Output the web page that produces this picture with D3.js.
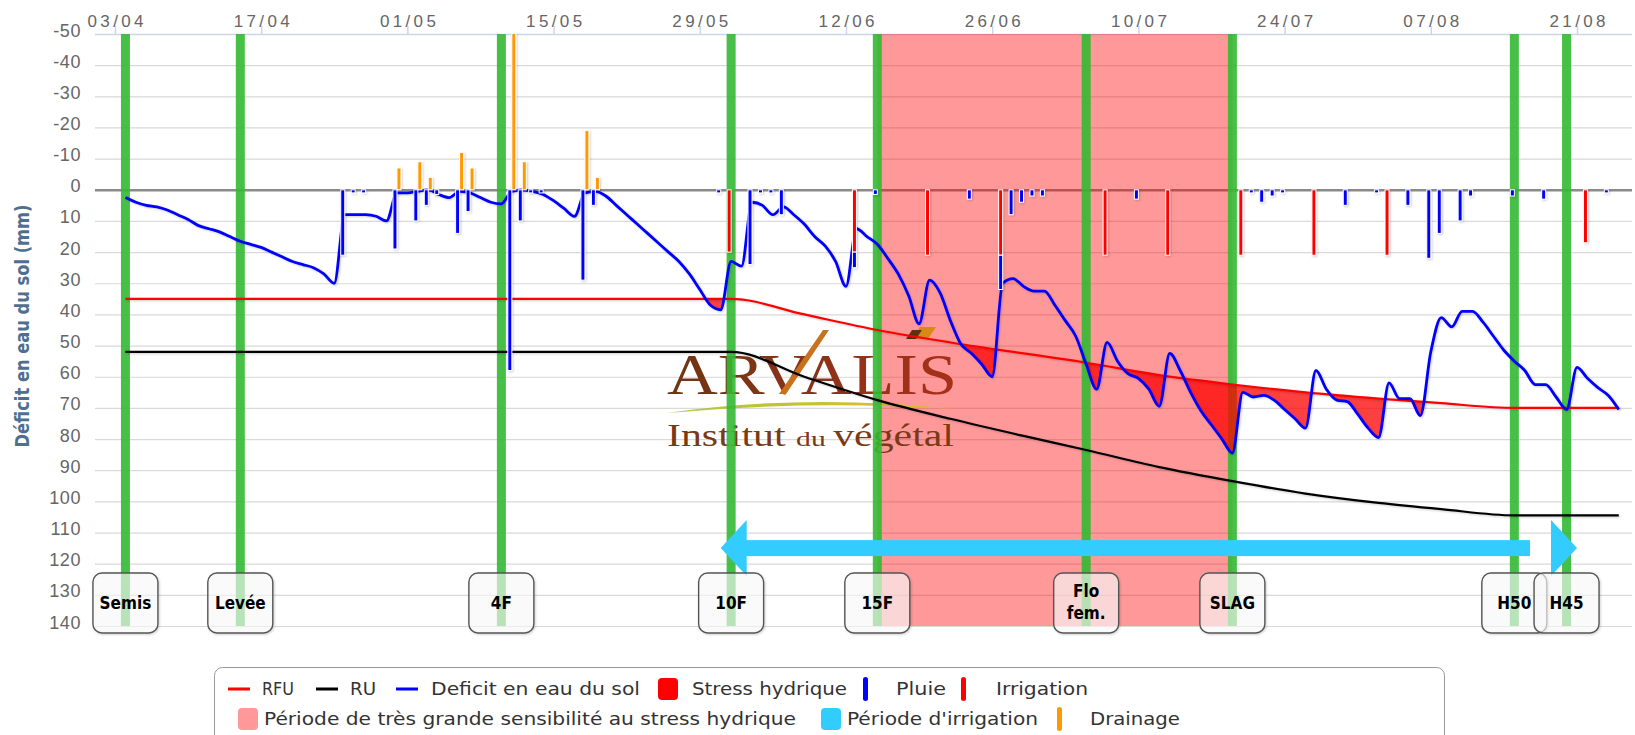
<!DOCTYPE html>
<html>
<head>
<meta charset="utf-8">
<title>Bilan hydrique</title>
<script src="https://cdn.jsdelivr.net/npm/d3@7"></script>
<style>
  body { margin: 0; background: #fff; }
  svg { display: block; font-family: "DejaVu Sans", sans-serif; }
  .narrow { font-family: "Liberation Sans Narrow", "DejaVu Sans Condensed", "Roboto Condensed", "Liberation Sans", sans-serif; }
</style>
</head>
<body>
<script>
// ---- data ----
var tickDates = ["03/04", "17/04", "01/05", "15/05", "29/05", "12/06", "26/06", "10/07", "24/07", "07/08", "21/08"];
var yTicks = [-50, -40, -30, -20, -10, 0, 10, 20, 30, 40, 50, 60, 70, 80, 90, 100, 110, 120, 130, 140];

var stageNames = ["Semis", "Levée", "4F", "10F", "15F", "Flo fem.", "SLAG", "H50", "H45"];
var stageDates = ["04/04", "15/04", "10/05", "01/06", "15/06", "05/07", "19/07", "15/08", "20/08"];

var sensitivePeriod = ["15/06", "19/07"];
var irrigPeriod = ["31/05", "21/08"];
var irrigPeriodLevel = 115;

var reserveDates = ["04/04", "01/06", "08/06", "15/06", "22/06", "29/06", "05/07", "12/07", "19/07", "26/07", "02/08", "08/08", "15/08", "25/08"];
var rfuValues = [35, 35, 40, 45, 49, 52.5, 55.5, 59.5, 62.5, 65, 67, 68.5, 70, 70];
var ruValues = [52, 52, 60, 67.5, 73.5, 79, 83.5, 89, 93.5, 97.5, 100.5, 102.5, 104.5, 104.5];

// daily soil water deficit, first value on 04/04
var deficitStart = "04/04";
var deficit = [
  2.5, 4, 5, 5.5, 6.5, 8, 9.5, 11.5, 12.5, 13.5,
  15, 16.5, 17.5, 18.5, 20, 21.5, 23, 24, 25, 27,
  30, 8, 8, 8, 8.5, 10, 1, 1, 0.5, 0,
  1.5, 2.5, 0.5, 1, 2.5, 4, 4.5, 0.5, 0, 0.5,
  1.5, 3.5, 6, 8.5, 1, 0.5, 2, 5, 8, 11,
  14, 17, 20, 23, 27, 32, 37, 38.5, 23, 24.5,
  4, 5, 8, 5.5, 8, 11, 15, 18, 23, 31,
  12.5, 15, 17.5, 22, 27, 34, 43, 29, 33, 42,
  49.5, 52.5, 56, 60, 30, 28.5, 31, 32.5, 32.5, 37,
  42, 47, 56, 64, 49, 55, 59, 60.5, 64, 69.5,
  52.5, 58, 65, 71, 75.5, 80, 84.5, 65, 66.5, 66,
  67.5, 70.5, 73.5, 76.5, 58, 64, 67.5, 68, 72, 76.5,
  79.5, 62, 67, 67, 72.5, 52, 41, 44, 39, 39,
  42.5, 47, 51.5, 55, 58, 62.5, 62.5, 66.5, 70.5, 57,
  60.5, 63.5, 66, 70.5
];

var pluieDates = ["25/04", "26/04", "27/04", "30/04", "02/05", "03/05", "04/05", "06/05", "07/05", "11/05",
  "12/05", "13/05", "14/05", "18/05", "19/05", "31/05", "03/06", "04/06", "05/06", "06/06",
  "13/06", "15/06", "24/06", "27/06", "28/06", "29/06", "30/06", "01/07", "10/07", "21/07",
  "22/07", "23/07", "24/07", "30/07", "02/08", "05/08", "07/08", "08/08", "10/08", "11/08",
  "15/08", "18/08", "24/08"];
var pluieValues = [21, 1, 1, 19, 10, 5, 1.5, 14, 7, 58,
  10, 1, 1, 29, 5, 1, 24, 1, 1, 8,
  5, 1.5, 3, 11, 8, 4, 2, 2, 3, 1,
  4, 2, 1, 5, 1, 5, 22, 14, 10, 2,
  2, 3, 1];

var irrigDates = ["01/06", "13/06", "20/06", "27/06", "07/07", "13/07", "20/07", "27/07", "03/08", "22/08"];
var irrigValues = [20, 20, 21, 21, 21, 21, 21, 21, 21, 17];

var drainDates = ["30/04", "02/05", "03/05", "06/05", "07/05", "11/05", "12/05", "18/05", "19/05"];
var drainValues = [-7, -9, -4, -12, -7, -60, -9, -19, -4];

// ---- layout ----
var W = 1635, H = 735;
var plot = {left: 95, right: 1632, top: 34, bottom: 626};

var parse = d3.timeParse("%d/%m/%Y");
function day(s) { return parse(s + "/2019"); }

var x = d3.scaleTime()
    .domain([day("03/04"), day("21/08")])
    .range([115, 1577]);
var y = d3.scaleLinear()
    .domain([-50, 140])
    .range([plot.top, plot.bottom]);

var svg = d3.select("body").append("svg")
    .attr("width", W)
    .attr("height", H);

var defs = svg.append("defs");
defs.append("clipPath").attr("id", "plotClip")
  .append("rect")
    .attr("x", plot.left).attr("y", plot.top)
    .attr("width", plot.right - plot.left).attr("height", plot.bottom - plot.top);

var shadow = defs.append("filter").attr("id", "shadow")
    .attr("x", "-20%").attr("y", "-20%").attr("width", "140%").attr("height", "140%");
shadow.append("feDropShadow")
    .attr("dx", 1).attr("dy", 1).attr("stdDeviation", 1)
    .attr("flood-color", "#000").attr("flood-opacity", 0.2);

var logoGrad = defs.append("linearGradient").attr("id", "logoGrad");
logoGrad.append("stop").attr("offset", "0%").attr("stop-color", "#6e3514");
logoGrad.append("stop").attr("offset", "100%").attr("stop-color", "#a8301a");
var swooshGrad = defs.append("linearGradient").attr("id", "swooshGrad");
swooshGrad.append("stop").attr("offset", "0%").attr("stop-color", "#a6cc3a");
swooshGrad.append("stop").attr("offset", "100%").attr("stop-color", "#e6b830");

// series helpers
var reserve = reserveDates.map(function (d, i) {
  return {date: day(d), rfu: rfuValues[i], ru: ruValues[i]};
});
var deficitData = deficit.map(function (v, i) {
  return {date: d3.timeDay.offset(day(deficitStart), i), v: v};
});

// ---- grid ----
svg.append("g").selectAll("line")
    .data(yTicks)
  .join("line")
    .attr("x1", plot.left).attr("x2", plot.right)
    .attr("y1", function (d) { return y(d) + 0.5; })
    .attr("y2", function (d) { return y(d) + 0.5; })
    .attr("stroke", function (d) { return d === 0 ? "#8a8a8a" : "#d9d9d9"; })
    .attr("stroke-width", function (d) { return d === 0 ? 2.5 : 1.2; });

// top axis line and ticks
svg.append("line")
    .attr("x1", plot.left).attr("x2", plot.right)
    .attr("y1", plot.top + 0.5).attr("y2", plot.top + 0.5)
    .attr("stroke", "#ccd6eb").attr("stroke-width", 1.5);

var xAxis = svg.append("g")
    .attr("transform", "translate(0," + plot.top + ")")
    .call(d3.axisTop(x)
      .tickValues(tickDates.map(day))
      .tickFormat(d3.timeFormat("%d/%m"))
      .tickSize(8)
      .tickSizeOuter(0));
xAxis.select(".domain").remove();
xAxis.selectAll(".tick line").attr("stroke", "#ccd6eb").attr("stroke-width", 1.5);
xAxis.selectAll(".tick text")
    .attr("y", -7)
    .attr("fill", "#666")
    .style("font-size", "17px")
    .attr("textLength", 56)
    .attr("lengthAdjust", "spacing");

var yAxis = svg.append("g")
    .attr("transform", "translate(81,0)")
    .call(d3.axisLeft(y).tickValues(yTicks).tickSize(0).tickPadding(0)
      .tickFormat(function (d) { return String(d); }));
yAxis.select(".domain").remove();
yAxis.selectAll(".tick text")
    .attr("dy", 2)
    .attr("fill", "#666")
    .style("font-size", "18px")
    .style("letter-spacing", "0.6px");

svg.append("text")
    .attr("class", "narrow")
    .attr("transform", "translate(29,326) rotate(-90)")
    .attr("text-anchor", "middle")
    .attr("fill", "#4f6f91")
    .attr("font-weight", "bold")
    .style("font-size", "20px")
    .attr("textLength", 243)
    .attr("lengthAdjust", "spacingAndGlyphs")
    .text("Déficit en eau du sol (mm)");

var chart = svg.append("g").attr("clip-path", "url(#plotClip)");

// sensitive period band
chart.append("rect")
    .attr("x", x(day(sensitivePeriod[0])))
    .attr("width", x(day(sensitivePeriod[1])) - x(day(sensitivePeriod[0])))
    .attr("y", plot.top).attr("height", plot.bottom - plot.top)
    .attr("fill", "#ff0000").attr("fill-opacity", 0.4);

// background logo
var logo = chart.append("g");
logo.append("text")
    .attr("x", 667).attr("y", 394)
    .attr("font-family", "Liberation Serif, DejaVu Serif, serif")
    .style("font-size", "56px")
    .attr("fill", "url(#logoGrad)")
    .attr("textLength", 290)
    .attr("lengthAdjust", "spacingAndGlyphs")
    .text("ARVALIS");
logo.append("path")
    .attr("d", "M779,394 L823,330 L829,330 L786,394 Z")
    .attr("fill", "#c8721e");
logo.append("path")
    .attr("d", "M912,339 L920,327 L936,327 L928,339 Z")
    .attr("fill", "#d98a14");
logo.append("path")
    .attr("d", "M906,339 L912,330 L922,330 L916,339 Z")
    .attr("fill", "#5a3216");
logo.append("path")
    .attr("d", "M667,413 Q805,393 955,409 Q805,400 667,413 Z")
    .attr("fill", "url(#swooshGrad)");
var inst = logo.append("text")
    .attr("x", 667).attr("y", 446)
    .attr("font-family", "Liberation Serif, DejaVu Serif, serif")
    .attr("fill", "#7a3a16");
inst.append("tspan").style("font-size", "31px").text("Institut ");
inst.append("tspan").style("font-size", "22px").text("du ");
inst.append("tspan").style("font-size", "31px").text("végétal");
inst.attr("textLength", 287).attr("lengthAdjust", "spacingAndGlyphs");

// stage lines
chart.append("g").selectAll("rect")
    .data(stageDates)
  .join("rect")
    .attr("x", function (d) { return x(day(d)) - 4.5; })
    .attr("width", 9)
    .attr("y", plot.top).attr("height", plot.bottom - plot.top)
    .attr("fill", "#32b932").attr("fill-opacity", 0.9);

// water stress: between RFU and deficit where deficit exceeds RFU
defs.append("clipPath").attr("id", "belowRfu")
  .append("path")
    .attr("d", d3.area()
      .x(function (d) { return x(d.date); })
      .y0(plot.bottom)
      .y1(function (d) { return y(d.rfu); })
      .curve(d3.curveMonotoneX)(reserve));

chart.append("path")
    .attr("clip-path", "url(#belowRfu)")
    .attr("d", d3.area()
      .x(function (d) { return x(d.date); })
      .y0(plot.top)
      .y1(function (d) { return y(d.v); })
      .curve(d3.curveMonotoneX)(deficitData))
    .attr("fill", "#ff0000").attr("fill-opacity", 0.75);

// lines
function lineOf(key) {
  return d3.line()
    .x(function (d) { return x(d.date); })
    .y(function (d) { return y(d[key]); })
    .curve(d3.curveMonotoneX);
}
chart.append("path").attr("d", lineOf("ru")(reserve))
    .attr("fill", "none").attr("stroke", "#000").attr("stroke-width", 2.2)
    .attr("filter", "url(#shadow)");
chart.append("path").attr("d", lineOf("rfu")(reserve))
    .attr("fill", "none").attr("stroke", "#ff0000").attr("stroke-width", 2.2)
    .attr("filter", "url(#shadow)");
chart.append("path").attr("d", lineOf("v")(deficitData))
    .attr("fill", "none").attr("stroke", "#0000ff").attr("stroke-width", 2.8)
    .attr("stroke-linejoin", "round")
    .attr("filter", "url(#shadow)");

// columns: irrigation and rain stacked, drainage beside
var slot = d3.scalePoint().domain(["cumul", "drainage"]).range([-2, 2]);
var barW = 4;
var irrigByDate = new Map(irrigDates.map(function (d, i) { return [d, irrigValues[i]]; }));
var bars = chart.append("g").attr("filter", "url(#shadow)");

bars.selectAll(".irrig")
    .data(irrigDates)
  .join("rect")
    .attr("class", "irrig")
    .attr("x", function (d) { return x(day(d)) + slot("cumul") - barW / 2; })
    .attr("width", barW)
    .attr("y", y(0))
    .attr("height", function (d, i) { return y(irrigValues[i]) - y(0); })
    .attr("fill", "#ff0000").attr("stroke", "#fff").attr("stroke-width", 1);

bars.selectAll(".pluie")
    .data(pluieDates)
  .join("rect")
    .attr("class", "pluie")
    .attr("x", function (d) { return x(day(d)) + slot("cumul") - barW / 2; })
    .attr("width", barW)
    .attr("y", function (d) { return y(irrigByDate.get(d) || 0); })
    .attr("height", function (d, i) {
      var base = irrigByDate.get(d) || 0;
      return y(base + pluieValues[i]) - y(base);
    })
    .attr("fill", "#0000ff").attr("stroke", "#fff").attr("stroke-width", 1);

bars.selectAll(".drain")
    .data(drainDates)
  .join("rect")
    .attr("class", "drain")
    .attr("x", function (d) { return x(day(d)) + slot("drainage") - barW / 2; })
    .attr("width", barW)
    .attr("y", function (d, i) { return y(drainValues[i]); })
    .attr("height", function (d, i) { return y(0) - y(drainValues[i]); })
    .attr("fill", "#ff9900").attr("stroke", "#fff").attr("stroke-width", 1);

// irrigation period arrow
var ay = y(irrigPeriodLevel), xs = x(day(irrigPeriod[0])), xe = x(day(irrigPeriod[1]));
var arrow = chart.append("g").attr("fill", "#33ccff");
arrow.append("rect")
    .attr("x", xs + 18).attr("width", (xe - 47) - (xs + 18))
    .attr("y", ay - 8).attr("height", 16);
arrow.append("path")
    .attr("d", "M" + xs + "," + ay + "L" + (xs + 26) + "," + (ay - 28) + "L" + (xs + 26) + "," + (ay + 28) + "Z");
arrow.append("path")
    .attr("d", "M" + xe + "," + ay + "L" + (xe - 26) + "," + (ay - 28) + "L" + (xe - 26) + "," + (ay + 28) + "Z");

// stage labels
var stageG = svg.append("g").selectAll("g")
    .data(stageNames)
  .join("g")
    .attr("transform", function (d, i) { return "translate(" + x(day(stageDates[i])) + ",0)"; });
stageG.append("rect")
    .attr("x", -32.5).attr("width", 65)
    .attr("y", 573).attr("height", 60)
    .attr("rx", 9)
    .attr("fill", "#fff").attr("fill-opacity", 0.6)
    .attr("stroke", "#555").attr("stroke-width", 1.4)
    .attr("filter", "url(#shadow)");
stageG.each(function (d) {
  var lines = d.split(" ");
  var t = d3.select(this).append("text")
      .attr("class", "narrow")
      .attr("text-anchor", "middle")
      .attr("font-weight", "bold")
      .style("font-size", "17px")
      .attr("fill", "#000");
  lines.forEach(function (s, k) {
    t.append("tspan").attr("x", 0)
      .attr("y", lines.length === 1 ? 609 : 597 + k * 22)
      .text(s);
  });
});

// legend
var legendItems = [
  {row: 0, sym: "line", color: "#ff0000", label: "RFU", sx: 228, tx: 262, tw: 32},
  {row: 0, sym: "line", color: "#000000", label: "RU", sx: 316, tx: 350, tw: 26},
  {row: 0, sym: "line", color: "#0000ff", label: "Deficit en eau du sol", sx: 396, tx: 431, tw: 209},
  {row: 0, sym: "square", color: "#ff0000", label: "Stress hydrique", sx: 658, tx: 692, tw: 155},
  {row: 0, sym: "bar", color: "#0000ff", label: "Pluie", sx: 863, tx: 896, tw: 50},
  {row: 0, sym: "bar", color: "#ff0000", label: "Irrigation", sx: 961, tx: 996, tw: 92},
  {row: 1, sym: "square", color: "rgba(255,0,0,0.4)", label: "Période de très grande sensibilité au stress hydrique", sx: 238, tx: 264, tw: 532},
  {row: 1, sym: "square", color: "#33ccff", label: "Période d'irrigation", sx: 821, tx: 847, tw: 191},
  {row: 1, sym: "bar", color: "#ff9900", label: "Drainage", sx: 1057, tx: 1090, tw: 90}
];
var legend = svg.append("g");
legend.append("rect")
    .attr("x", 214.5).attr("y", 667.5)
    .attr("width", 1230).attr("height", 90)
    .attr("rx", 8)
    .attr("fill", "#fff").attr("stroke", "#999");
var li = legend.selectAll("g.item")
    .data(legendItems)
  .join("g")
    .attr("class", "item")
    .attr("transform", function (d) { return "translate(0," + (d.row === 0 ? 689 : 719) + ")"; });
li.filter(function (d) { return d.sym === "line"; }).append("rect")
    .attr("x", function (d) { return d.sx; }).attr("width", 22)
    .attr("y", -1.5).attr("height", 3)
    .attr("fill", function (d) { return d.color; });
li.filter(function (d) { return d.sym === "square"; }).append("rect")
    .attr("x", function (d) { return d.sx; }).attr("width", 20)
    .attr("y", -11).attr("height", 22)
    .attr("rx", 4)
    .attr("fill", function (d) { return d.color; });
li.filter(function (d) { return d.sym === "bar"; }).append("rect")
    .attr("x", function (d) { return d.sx; }).attr("width", 5)
    .attr("y", -12).attr("height", 24)
    .attr("rx", 2.5)
    .attr("fill", function (d) { return d.color; });
li.append("text")
    .attr("class", "narrow")
    .attr("x", function (d) { return d.tx; })
    .attr("y", 6)
    .attr("fill", "#333")
    .style("font-size", "18px")
    .attr("textLength", function (d) { return d.tw; })
    .attr("lengthAdjust", "spacingAndGlyphs")
    .text(function (d) { return d.label; });
</script>
</body>
</html>
